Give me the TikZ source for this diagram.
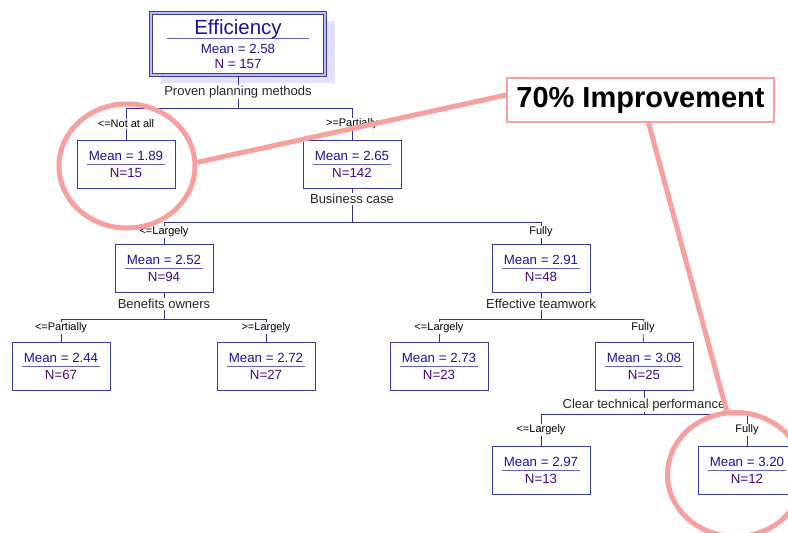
\documentclass[tikz,border=0pt]{standalone}
\usepackage{fontspec}
\setmainfont{Liberation Sans}
\usetikzlibrary{positioning, shadows, shapes.geometric}

\definecolor{meancol}{RGB}{30,20,150}
\definecolor{ncol}{RGB}{70,10,120}
\definecolor{boxcol}{RGB}{60,60,150}
\definecolor{rulecol}{RGB}{100,100,180}
\definecolor{edgecol}{RGB}{50,50,140}
\definecolor{shadecol}{RGB}{225,225,250}
\definecolor{gapcol}{RGB}{190,190,235}
\definecolor{hilite}{RGB}{248,160,160}

\newcommand{\stat}[2]{\textcolor{meancol}{Mean = #1}\\\textcolor{ncol}{N=#2}}

\tikzset{
  stat/.style={draw=boxcol, line width=0.9pt, minimum width=98pt, minimum height=48pt,
    align=center, font=\fontsize{13.3}{17}\selectfont,
    path picture={\draw[rulecol, line width=1pt]
      ([xshift=-39pt]path picture bounding box.center) -- ([xshift=39pt]path picture bounding box.center);}},
  rootbox/.style={draw=boxcol, line width=1pt, double=gapcol, double distance=1.5pt,
    minimum width=174pt, minimum height=62pt, fill=white, align=center,
    font=\fontsize{13.3}{15}\selectfont,
    drop shadow={shadow xshift=10pt, shadow yshift=-8pt, fill=shadecol, opacity=1},
    path picture={\draw[rulecol, line width=1pt]
      ([xshift=-71pt,yshift=6pt]path picture bounding box.center) -- ([xshift=71pt,yshift=6pt]path picture bounding box.center);}},
  split/.style={font=\fontsize{13}{15}\selectfont, inner sep=1pt, text=black!85},
  cond/.style={font=\fontsize{11}{12}\selectfont, inner sep=1pt},
  edge/.style={draw=edgecol, line width=0.9pt},
  ring/.style={draw=hilite, line width=5pt, ellipse, minimum width=136pt, minimum height=124pt},
  callout/.style={draw=hilite, line width=1.2pt, fill=white, minimum width=267pt, minimum height=44pt,
    font=\fontsize{29}{30}\selectfont\bfseries},
  hiline/.style={draw=hilite, line width=5pt}
}

\begin{document}
\begin{tikzpicture}[x=1pt, y=-1pt]
\path[use as bounding box, fill=white] (0,0) rectangle (788,533);

% Root
\node[rootbox] (root) at (238,44) {{\fontsize{20.5}{22}\selectfont\textcolor{meancol}{Efficiency}}\\[3.7pt]\textcolor{meancol}{Mean = 2.58}\\\textcolor{ncol}{N = 157}};

% Split variables
\node[split] (q1) at (238,92) {Proven planning methods};
\node[split] (q2) at (352,199) {Business case};
\node[split] (q3) at (164,304) {Benefits owners};
\node[split] (q4) at (541,304) {Effective teamwork};
\node[split] (q5) at (644,405) {Clear technical performance};

% Tree nodes
\node[stat] (n189) at (126,164.5) {\stat{1.89}{15}};
\node[stat] (n265) at (352,164.5) {\stat{2.65}{142}};
\node[stat] (n252) at (164,268) {\stat{2.52}{94}};
\node[stat] (n291) at (541,268) {\stat{2.91}{48}};
\node[stat] (n244) at (61,366) {\stat{2.44}{67}};
\node[stat] (n272) at (266,366) {\stat{2.72}{27}};
\node[stat] (n273) at (439,366) {\stat{2.73}{23}};
\node[stat] (n308) at (644,366) {\stat{3.08}{25}};
\node[stat] (n297) at (541,470.5) {\stat{2.97}{13}};
\node[stat] (n320) at (747,470.5) {\stat{3.20}{12}};

% Conditions
\node[cond] (c1) at (126,124) {<=Not at all};
\node[cond] (c2) at (352,124) {>=Partially};
\node[cond] (c3) at (164,232) {<=Largely};
\node[cond] (c4) at (541,232) {Fully};
\node[cond] (c5) at (61,328) {<=Partially};
\node[cond] (c6) at (266,328) {>=Largely};
\node[cond] (c7) at (439,328) {<=Largely};
\node[cond] (c8) at (643,328) {Fully};
\node[cond] (c9) at (541,430) {<=Largely};
\node[cond] (c10) at (747,430) {Fully};

% Bars
\coordinate (b1) at (238,108);
\coordinate (b2) at (352,222);
\coordinate (b3) at (164,319);
\coordinate (b4) at (541,319);
\coordinate (b5) at (644,414);

\foreach \nd/\sp/\bx in {root/q1/b1, n265/q2/b2, n252/q3/b3, n291/q4/b4, n308/q5/b5} {
  \draw[edge] (\nd) -- (\sp);
  \draw[edge] (\sp) -- (\bx);
}
\draw[edge] (b1 -| n189) -- (b1 -| n265);
\draw[edge] (b2 -| n252) -- (b2 -| n291);
\draw[edge] (b3 -| n244) -- (b3 -| n272);
\draw[edge] (b4 -| n273) -- (b4 -| n308);
\draw[edge] (b5 -| n297) -- (b5 -| n320);
\foreach \bx/\lx/\nx in {b1/c1/n189, b1/c2/n265, b2/c3/n252, b2/c4/n291, b3/c5/n244,
  b3/c6/n272, b4/c7/n273, b4/c8/n308, b5/c9/n297, b5/c10/n320} {
  \draw[edge] (\bx -| \nx) -- (\lx);
  \draw[edge] (\lx) -- (\nx);
}

% Highlight
\node[ring] (ring1) at (127,166) {};
\node[ring] (ring2) at (735.5,474.5) {};
\node[callout] (imp) at (640.5,100) {70\% Improvement};
\draw[hiline] (ring1.3) -- ([yshift=5pt]imp.west);
\draw[hiline] ([xshift=8pt]imp.south) -- (ring2.98);
\end{tikzpicture}
\end{document}
